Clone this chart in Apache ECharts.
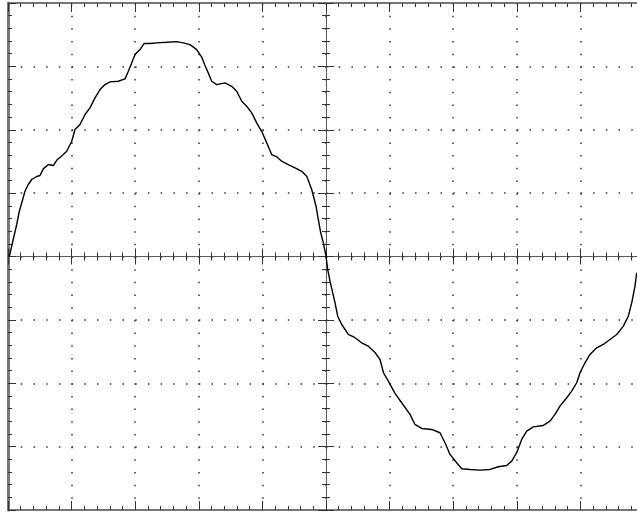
<!DOCTYPE html>
<html>
<head>
<meta charset="utf-8">
<script src="https://cdn.jsdelivr.net/npm/echarts@6/dist/echarts.min.js"></script>
<style>
html,body{margin:0;padding:0;background:#fff;}
#chart{width:637px;height:512px;}
</style>
</head>
<body>
<div id="chart"></div>
<script>
// Time in horizontal divisions (0..10), voltage in vertical divisions (-4..4)
const timeDiv = [0.02,0.058,0.094,0.137,0.178,0.231,0.267,0.319,0.373,0.451,0.503,0.555,0.634,0.712,0.775,0.818,0.869,0.923,0.948,1.002,1.053,1.132,1.211,1.289,1.368,1.447,1.525,1.604,1.734,1.84,1.892,1.945,1.997,2.075,2.138,2.233,2.338,2.495,2.653,2.756,2.862,2.967,3.046,3.097,3.149,3.203,3.281,3.412,3.517,3.596,3.675,3.753,3.832,3.91,3.989,4.068,4.146,4.225,4.303,4.407,4.513,4.618,4.697,4.775,4.843,4.879,4.917,4.958,5.0,5.027,5.063,5.099,5.142,5.184,5.247,5.351,5.456,5.561,5.665,5.77,5.849,5.904,5.98,6.085,6.19,6.321,6.399,6.505,6.662,6.792,6.871,6.95,7.055,7.134,7.264,7.421,7.579,7.709,7.841,7.92,7.998,8.077,8.156,8.259,8.417,8.522,8.601,8.679,8.785,8.863,8.942,8.994,9.072,9.151,9.256,9.36,9.465,9.571,9.675,9.753,9.807,9.858,9.885];
const voltDiv = [0,0.162,0.32,0.505,0.715,0.899,1.03,1.136,1.215,1.262,1.278,1.383,1.451,1.435,1.53,1.562,1.609,1.661,1.688,1.819,2.003,2.082,2.24,2.345,2.503,2.634,2.713,2.756,2.765,2.803,2.923,3.055,3.186,3.265,3.36,3.36,3.371,3.38,3.391,3.371,3.344,3.265,3.147,3.013,2.897,2.765,2.713,2.74,2.686,2.607,2.45,2.371,2.267,2.109,1.976,1.793,1.609,1.573,1.503,1.451,1.399,1.345,1.267,1.057,0.793,0.584,0.374,0.216,0.005,-0.205,-0.39,-0.547,-0.73,-0.942,-1.073,-1.23,-1.282,-1.361,-1.415,-1.514,-1.625,-1.834,-1.967,-2.161,-2.308,-2.492,-2.65,-2.713,-2.729,-2.781,-2.939,-3.123,-3.254,-3.349,-3.36,-3.371,-3.36,-3.317,-3.297,-3.229,-3.096,-2.886,-2.756,-2.689,-2.666,-2.598,-2.492,-2.361,-2.229,-2.125,-1.992,-1.834,-1.677,-1.546,-1.44,-1.388,-1.309,-1.23,-1.099,-0.942,-0.73,-0.468,-0.257];
const xRange = [0, 10];
const yRange = [-4, 4];

const chart = echarts.init(document.getElementById('chart'), null, {renderer:'canvas'});
const g = {left:8, top:3, width:636, height:507, containLabel:false, outerBoundsMode:'none'};
const tickCol = '#333';
function frameX(pos, split){
  return {gridIndex:0, type:'value', min:xRange[0], max:xRange[1], interval:1, position:pos,
    axisLine:{show:true, onZero:false, lineStyle:{color:'#777', width:2}},
    axisTick:{show:true, inside:true, length:9, lineStyle:{color:tickCol, width:1}},
    minorTick:{show:true, splitNumber:5, length:4, lineStyle:{color:tickCol, width:1}},
    axisLabel:{show:false},
    splitLine:{show:split, lineStyle:{color:'#333', width:1.5, type:[1.5, 11.175]}}};
}
function centerX(gi, inside){
  return {gridIndex:gi, type:'value', min:-5, max:5, interval:1,
    axisLine:{show:true, onZero:true, lineStyle:{color:'#555', width:1, type:[2,1]}},
    axisTick:{show:true, inside:inside, length:8, lineStyle:{color:tickCol, width:1}},
    minorTick:{show:true, splitNumber:5, length:4, lineStyle:{color:tickCol, width:1}},
    axisLabel:{show:false}, splitLine:{show:false}};
}
function centerY(gi, inside){
  return {gridIndex:gi, type:'value', min:-4, max:4, interval:1,
    axisLine:{show:true, onZero:true, lineStyle:{color:'#555', width:1, type:[2,1]}},
    axisTick:{show:true, inside:inside, length:8, lineStyle:{color:tickCol, width:1}},
    minorTick:{show:true, splitNumber:5, length:4, lineStyle:{color:tickCol, width:1}},
    axisLabel:{show:false}, splitLine:{show:false}};
}
const option = {
  animation:false,
  backgroundColor:'#ffffff',
  grid:[Object.assign({},g), Object.assign({},g), Object.assign({},g)],
  xAxis:[frameX('bottom', true), frameX('top', false), centerX(1,false), centerX(2,true)],
  yAxis:[
    {gridIndex:0, type:'value', min:yRange[0], max:yRange[1], interval:1, position:'left',
     axisLine:{show:true, onZero:false, lineStyle:{color:'#777', width:3}},
     axisTick:{show:true, inside:true, length:8, lineStyle:{color:tickCol, width:1}},
     minorTick:{show:true, splitNumber:5, length:4, lineStyle:{color:tickCol, width:1}},
     axisLabel:{show:false},
     splitLine:{show:true, lineStyle:{color:'#333', width:1.5, type:[1.5, 11.22]}}},
    centerY(1,false), centerY(2,true)
  ],
  series:[{
    type:'line', xAxisIndex:0, yAxisIndex:0,
    data: timeDiv.map((t,i)=>[t, voltDiv[i]]),
    showSymbol:false, symbol:'none', smooth:false,
    lineStyle:{color:'#000', width:1.4},
    z:10
  }]
};
chart.setOption(option);
</script>
</body>
</html>
